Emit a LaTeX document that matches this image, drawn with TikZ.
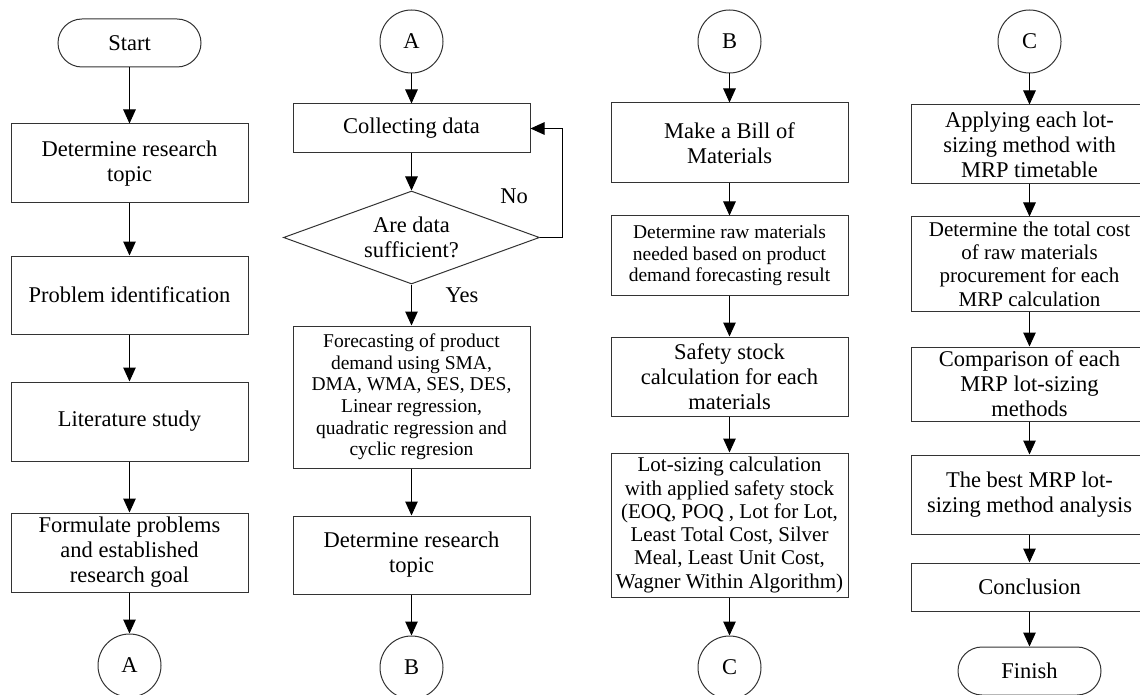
\documentclass[tikz,border=0pt]{standalone}
\usepackage{fontspec}
\setmainfont{Liberation Serif}
\usetikzlibrary{arrows.meta,shapes.geometric}

\begin{document}
\begin{tikzpicture}[
x=1pt,y=-1pt,
font=\fontsize{22.5}{25}\selectfont,
box/.style={draw=black!80,line width=1pt,minimum width=237pt,inner sep=0pt,align=center},
term/.style={draw=black!80,line width=1pt,rounded corners=24pt,minimum width=143pt,minimum height=48pt,inner sep=0pt},
conn/.style={draw=black!80,line width=1pt,circle,minimum size=63pt,inner sep=0pt},
decision/.style={draw=black!80,line width=1pt,diamond,aspect=2.75,minimum width=256pt,minimum height=93pt,inner sep=0pt,align=center},
flow/.style={-{Triangle[length=14pt,width=12.5pt]},line width=1pt},
midtext/.style={font=\fontsize{21}{23.3}\selectfont},
smalltext/.style={font=\fontsize{19.5}{21.6}\selectfont}]
    \useasboundingbox (0,0) rectangle (1140,695);
    \clip (0,0) rectangle (1140,695);

    % First column
    \node[term] (start) at (129.5,43) {Start};
    \node[box,minimum height=79pt] (topic) at (129.5,163.5) {Determine research\\topic};
    \node[box,minimum height=78pt] (ident) at (129.5,295) {Problem identification};
    \node[box,minimum height=79pt] (lit) at (129.5,421.5) {Literature study};
    \node[box,minimum height=79pt] (goal) at (129.5,552.5) {Formulate problems\\and established\\research goal};
    \node[conn] (outA) at (129.5,665.5) {A};

    \draw[flow] (start) -- (topic);
    \draw[flow] (topic) -- (ident);
    \draw[flow] (ident) -- (lit);
    \draw[flow] (lit) -- (goal);
    \draw[flow] (goal) -- (outA);

    % Second column
    \node[conn] (inA) at (411.5,41.5) {A};
    \node[box,minimum height=49pt] (collect) at (411.5,128.5) {Collecting data};
    \node[decision] (enough) at (411.5,237.5) {Are data\\sufficient?};
    \node[box,smalltext,minimum height=142pt] (forecast) at (411.5,397) {Forecasting of product\\demand using SMA,\\DMA, WMA, SES, DES,\\Linear regression,\\quadratic regression and\\cyclic regresion};
    \node[box,minimum height=78pt] (topic2) at (411.5,555) {Determine research\\topic};
    \node[conn] (outB) at (411.5,667.5) {B};
    \node (no) at (514,196) {No};
    \node (yes) at (462,295) {Yes};

    \draw[flow] (inA) -- (collect);
    \draw[flow] (collect) -- (enough);
    \draw[flow] (enough.east) -- ++(22,0) |- (collect.east);
    \draw[flow] (enough) -- (forecast);
    \draw[flow] (forecast) -- (topic2);
    \draw[flow] (topic2) -- (outB);

    % Third column
    \node[conn] (inB) at (729.5,41.5) {B};
    \node[box,minimum height=80pt] (bom) at (729.5,143) {Make a Bill of\\Materials};
    \node[box,smalltext,minimum height=79pt] (raw) at (729.5,255.5) {Determine raw materials\\needed based on product\\demand forecasting result};
    \node[box,minimum height=79pt] (safety) at (729.5,376.5) {Safety stock\\calculation for each\\materials};
    \node[box,midtext,minimum height=144pt] (lotsize) at (729.5,525) {Lot-sizing calculation\\with applied safety stock\\(EOQ, POQ , Lot for Lot,\\Least Total Cost, Silver\\Meal, Least Unit Cost,\\Wagner Within Algorithm)};
    \node[conn] (outC) at (729.5,667.5) {C};

    \draw[flow] (inB) -- (bom);
    \draw[flow] (bom) -- (raw);
    \draw[flow] (raw) -- (safety);
    \draw[flow] (safety) -- (lotsize);
    \draw[flow] (lotsize) -- (outC);

    % Fourth column
    \node[conn] (inC) at (1029.5,41.5) {C};
    \node[box,minimum height=79pt] (apply) at (1029.5,144.5) {Applying each lot-\\sizing method with\\MRP timetable};
    \node[box,midtext,minimum height=94pt] (cost) at (1029.5,264) {Determine the total cost\\of raw materials\\procurement for each\\MRP calculation};
    \node[box,minimum height=74pt] (compare) at (1029.5,384) {Comparison of each\\MRP lot-sizing\\methods};
    \node[box,minimum height=79pt] (best) at (1029.5,494.5) {The best MRP lot-\\sizing method analysis};
    \node[box,minimum height=48pt] (concl) at (1029.5,587) {Conclusion};
    \node[term] (finish) at (1029.5,671) {Finish};

    \draw[flow] (inC) -- (apply);
    \draw[flow] (apply) -- (cost);
    \draw[flow] (cost) -- (compare);
    \draw[flow] (compare) -- (best);
    \draw[flow] (best) -- (concl);
    \draw[flow] (concl) -- (finish);

\end{tikzpicture}
\end{document}
